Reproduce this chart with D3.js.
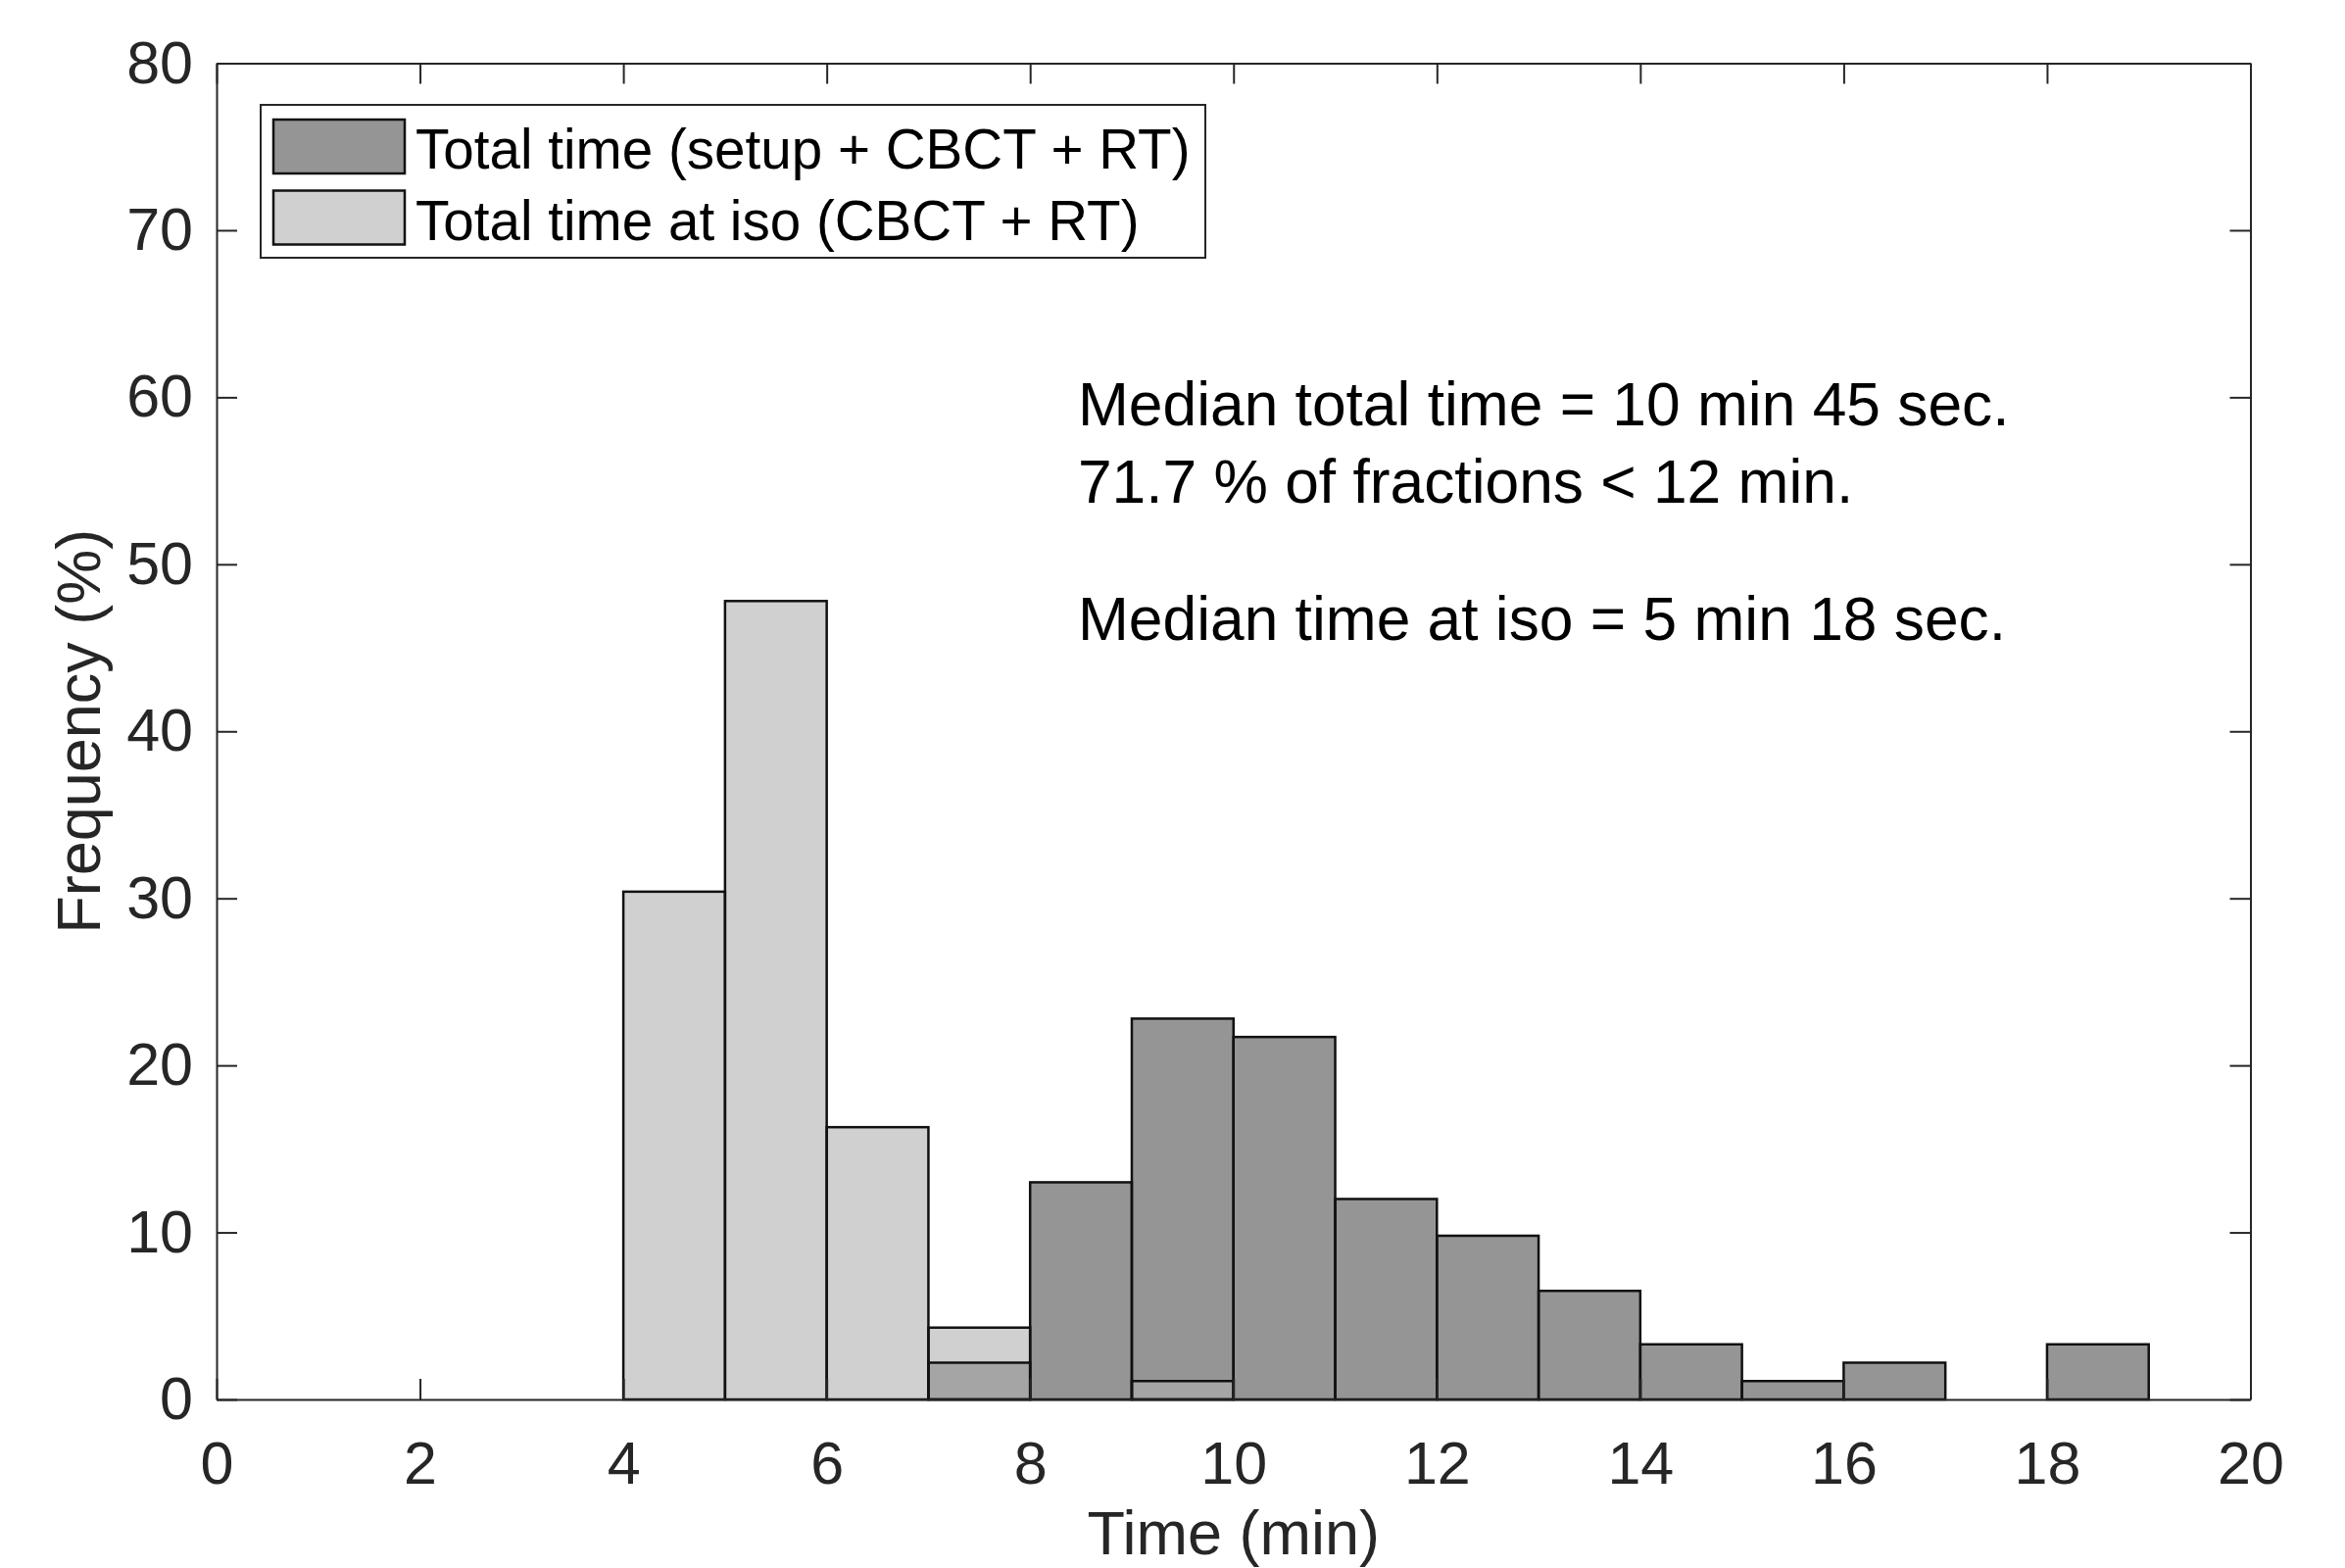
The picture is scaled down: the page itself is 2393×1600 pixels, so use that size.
<!DOCTYPE html>
<html>
<head>
<meta charset="utf-8">
<script src="https://cdn.jsdelivr.net/npm/d3@7"></script>
<style>
	html, body { margin: 0; padding: 0; background: #fff; }
	svg { display: block; font-family: "Liberation Sans", Arial, Helvetica, sans-serif; }
</style>
</head>
<body>
<svg id="chart" width="2393" height="1600"></svg>
<script>
// bins are 1 minute wide, listed by their left edge
var binStart = [4, 5, 6, 7, 8, 9, 10, 11, 12, 13, 14, 15, 16, 17, 18];
var totalPct = [0, 0, 0, 2.2, 13.0, 22.8, 21.7, 12.0, 9.8, 6.5, 3.3, 1.1, 2.2, 0, 3.3];
var isoPct = [30.4, 47.8, 16.3, 4.3, 0, 1.1, 0, 0, 0, 0, 0, 0, 0, 0, 0];
var binWidth = 1;

var xTicks = [0, 2, 4, 6, 8, 10, 12, 14, 16, 18, 20];
var yTicks = [0, 10, 20, 30, 40, 50, 60, 70, 80];

var seriesNames = ['Total time (setup + CBCT + RT)', 'Total time at iso (CBCT + RT)'];
var notes = [
	{x: 8.47, y: 58.3, text: 'Median total time = 10 min 45 sec.'},
	{x: 8.47, y: 53.7, text: '71.7 % of fractions < 12 min.'},
	{x: 8.47, y: 45.5, text: 'Median time at iso = 5 min 18 sec.'}
];

var margin = {left: 221, top: 64.5, right: 2393 - 2296.5, bottom: 1600 - 1428};
var width = 2393 - margin.left - margin.right;
var height = 1600 - margin.top - margin.bottom;

var axisColor = '#262626';
var darkFill = 'rgb(78,78,78)';
var lightFill = 'rgb(177,177,177)';
var faceAlpha = 0.6;

var svg = d3.select('#chart');
var g = svg.append('g').attr('transform', 'translate(' + margin.left + ',' + margin.top + ')');

var x = d3.scaleLinear().domain([0, 20]).range([0, width]);
var y = d3.scaleLinear().domain([0, 80]).range([height, 0]);

function bins(values) {
	return binStart.map(function (s, i) {
		return {x0: s, x1: s + binWidth, v: values[i]};
	}).filter(function (d) { return d.v > 0; });
}

var series = [
	{data: bins(totalPct), fill: darkFill},
	{data: bins(isoPct), fill: lightFill}
];

// faces first, outlines on top
var faces = g.append('g');
var edges = g.append('g');

series.forEach(function (s) {
	faces.selectAll(null)
		.data(s.data)
		.enter().append('rect')
		.attr('x', function (d) { return x(d.x0); })
		.attr('y', function (d) { return y(d.v); })
		.attr('width', function (d) { return x(d.x1) - x(d.x0); })
		.attr('height', function (d) { return y(0) - y(d.v); })
		.attr('fill', s.fill)
		.attr('fill-opacity', faceAlpha);
});

series.forEach(function (s) {
	edges.selectAll(null)
		.data(s.data)
		.enter().append('rect')
		.attr('x', function (d) { return x(d.x0); })
		.attr('y', function (d) { return y(d.v); })
		.attr('width', function (d) { return x(d.x1) - x(d.x0); })
		.attr('height', function (d) { return y(0) - y(d.v); })
		.attr('fill', 'none')
		.attr('stroke', '#111')
		.attr('stroke-width', 2.5);
});

// axes, ticks pointing inward on all four sides
var tickLen = 21;

var xAxis = g.append('g')
	.attr('transform', 'translate(0,' + height + ')')
	.call(d3.axisBottom(x).tickValues(xTicks).tickSizeInner(-tickLen).tickSizeOuter(0).tickPadding(43));

var yAxis = g.append('g')
	.call(d3.axisLeft(y).tickValues(yTicks).tickSizeInner(-tickLen).tickSizeOuter(0).tickPadding(24));

var xTop = g.append('g')
	.call(d3.axisTop(x).tickValues(xTicks).tickSizeInner(-tickLen).tickSizeOuter(0).tickFormat(''));

var yRight = g.append('g')
	.attr('transform', 'translate(' + width + ',0)')
	.call(d3.axisRight(y).tickValues(yTicks).tickSizeInner(-tickLen).tickSizeOuter(0).tickFormat(''));

[xAxis, yAxis, xTop, yRight].forEach(function (a) {
	a.select('.domain').attr('stroke', axisColor).attr('stroke-width', 2);
	a.selectAll('.tick line').attr('stroke', axisColor).attr('stroke-width', 2);
	a.selectAll('.tick text')
		.attr('fill', axisColor)
		.style('font-size', '61px')
		.style('font-family', '"Liberation Sans", Arial, sans-serif');
});

// axis labels
g.append('text')
	.attr('x', width / 2)
	.attr('y', 1586 - margin.top)
	.attr('text-anchor', 'middle')
	.attr('fill', axisColor)
	.style('font-size', '63px')
	.text('Time (min)');

g.append('text')
	.attr('transform', 'translate(' + (102 - margin.left) + ',' + (height / 2) + ') rotate(-90)')
	.attr('text-anchor', 'middle')
	.attr('fill', axisColor)
	.style('font-size', '63px')
	.text('Frequency (%)');

// annotation
g.selectAll('.note')
	.data(notes)
	.enter().append('text')
	.attr('class', 'note')
	.attr('x', function (d) { return x(d.x); })
	.attr('y', function (d) { return y(d.y); })
	.attr('fill', '#000')
	.style('font-size', '62.3px')
	.text(function (d) { return d.text; });

// legend
var legend = svg.append('g').attr('transform', 'translate(266,107)');

legend.append('rect')
	.attr('width', 964)
	.attr('height', 156)
	.attr('fill', '#fff')
	.attr('stroke', axisColor)
	.attr('stroke-width', 2);

var rows = legend.selectAll('.row')
	.data(seriesNames)
	.enter().append('g')
	.attr('class', 'row')
	.attr('transform', function (d, i) { return 'translate(0,' + (i * 72.5) + ')'; });

rows.append('rect')
	.attr('x', 13)
	.attr('y', 15)
	.attr('width', 134)
	.attr('height', 55)
	.attr('fill', function (d, i) { return series[i].fill; })
	.attr('fill-opacity', faceAlpha)
	.attr('stroke', '#111')
	.attr('stroke-width', 2.5);

rows.append('text')
	.attr('x', 158)
	.attr('y', 65)
	.attr('fill', '#000')
	.style('font-size', '56.6px')
	.text(function (d) { return d; });
</script>
</body>
</html>
